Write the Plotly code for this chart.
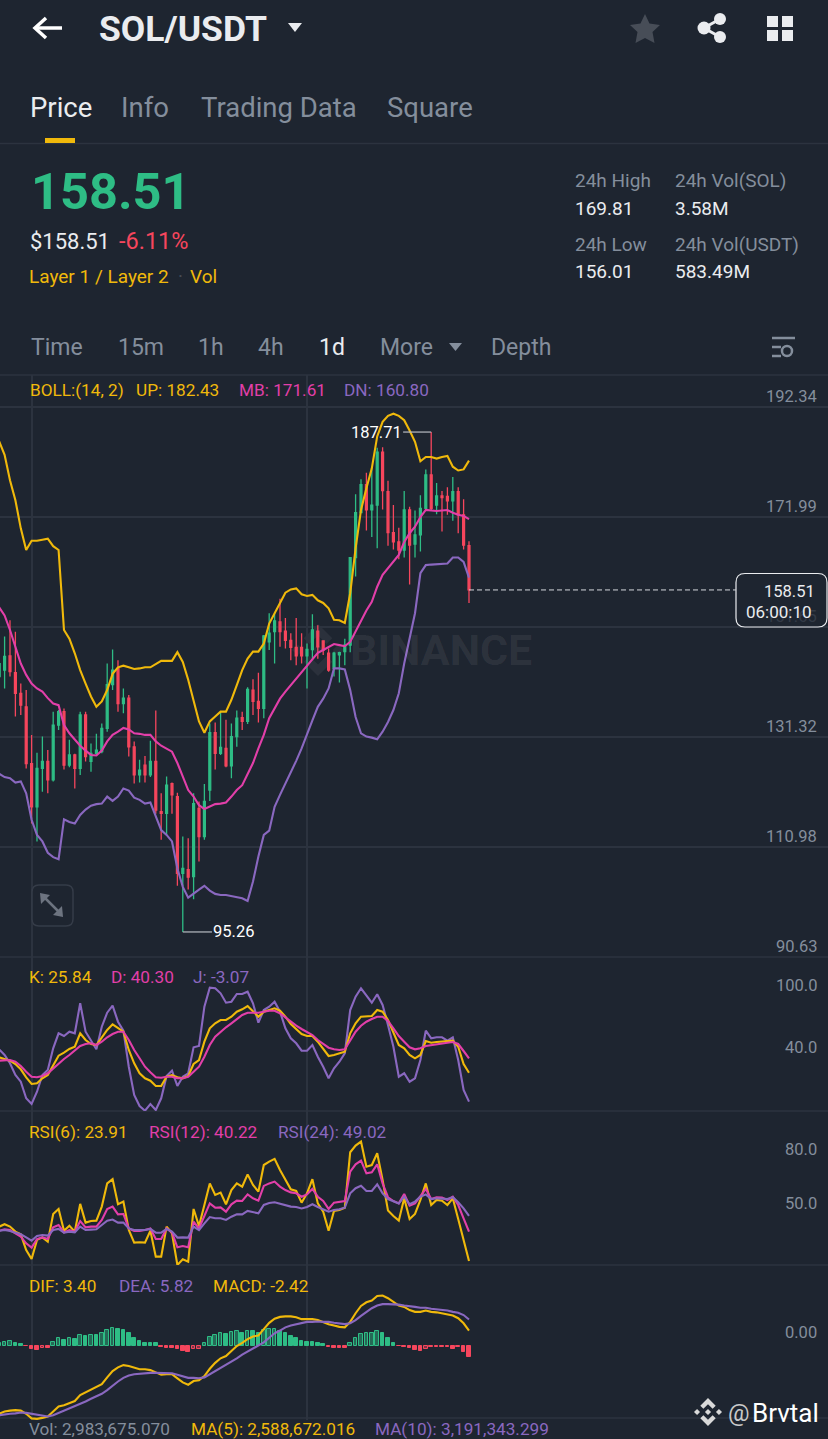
import plotly.graph_objects as go

W, H = 828, 1439

BG = "#1e2530"
GRID = "#2c333f"
GRAY = "#848e9c"
YELLOW = "#f0b90b"
PINK = "#e23fa9"
PURPLE = "#8a68c0"
GREEN = "#2ebd85"
RED = "#f6465d"
WHITE = "#eaecef"

# candle index, one per day
days = list(range(88))

opens = [142.5, 143.7, 146.3, 143.2, 139.4, 136.9, 126.4, 118.4, 125.5, 126.8,
         123.4, 133.5, 136.0, 126.1, 128.0, 125.5, 135.4, 126.8, 128.3, 128.6,
         132.9, 141.0, 144.0, 137.5, 138.5, 129.5, 124.3, 126.1, 124.3, 126.8,
         117.5, 117.2, 122.7, 120.3, 106.1, 106.8, 105.5, 118.1, 112.9, 121.5,
         132.1, 128.3, 129.2, 126.0, 131.4, 134.9, 134.2, 140.0, 137.9, 136.6,
         148.9, 150.8, 152.6, 150.9, 149.2, 147.9, 147.9, 146.3, 147.5, 150.9,
         149.1, 146.8, 144.0, 146.5, 147.1, 148.3, 164.5, 172.8, 178.0, 173.3,
         174.2, 184.0, 176.7, 169.1, 167.4, 165.9, 173.3, 167.0, 168.7, 173.6,
         179.8, 174.2, 175.9, 175.8, 175.0, 176.7, 172.4, 166.7]
highs = [147.1, 149.9, 152.9, 150.8, 141.2, 140.0, 131.7, 128.4, 131.4, 128.9,
         136.0, 136.3, 136.6, 130.8, 128.2, 136.0, 136.0, 130.1, 131.9, 133.8,
         144.9, 147.5, 145.5, 140.3, 139.1, 130.5, 127.1, 127.8, 130.6, 136.2,
         120.9, 124.0, 122.9, 121.0, 112.9, 112.6, 120.9, 119.4, 122.6, 133.8,
         134.0, 136.0, 134.5, 133.8, 136.2, 136.0, 140.5, 142.0, 143.2, 150.2,
         154.2, 154.2, 156.9, 153.3, 150.5, 153.3, 150.5, 148.6, 154.0, 152.0,
         149.2, 147.7, 147.1, 147.1, 149.5, 164.6, 176.2, 179.0, 180.2, 181.0,
         184.8, 184.9, 178.7, 174.2, 170.0, 176.8, 173.9, 173.2, 176.0, 180.8,
         187.71, 178.3, 176.8, 177.5, 179.4, 177.5, 175.3, 167.5]
lows = [130.8, 140.3, 142.5, 135.1, 135.4, 125.5, 115.3, 112.0, 121.2, 120.9,
        123.1, 132.6, 125.3, 125.7, 121.8, 124.3, 126.8, 124.9, 128.0, 128.3,
        132.3, 140.0, 136.0, 135.7, 127.7, 122.7, 122.9, 122.9, 123.9, 117.1,
        112.3, 113.2, 117.1, 103.8, 95.26, 103.1, 101.3, 108.3, 112.3, 119.5,
        125.3, 128.0, 125.7, 123.7, 129.5, 132.6, 133.7, 135.4, 134.0, 134.8,
        147.4, 144.9, 148.0, 147.7, 145.5, 144.6, 144.9, 140.3, 145.8, 145.8,
        146.5, 143.4, 142.5, 141.4, 144.6, 147.0, 161.0, 172.7, 169.5, 168.3,
        166.2, 173.4, 166.7, 166.0, 164.2, 164.5, 159.5, 164.5, 165.6, 173.2,
        173.3, 172.5, 169.3, 172.4, 171.3, 169.0, 166.0, 156.1]
closes = [144.9, 146.2, 143.4, 139.4, 137.2, 126.4, 118.4, 125.5, 126.8, 123.4,
          133.5, 136.0, 126.1, 128.0, 125.5, 135.4, 127.7, 128.3, 128.9, 132.9,
          141.0, 143.7, 137.5, 138.5, 129.5, 124.3, 125.2, 124.3, 126.8, 117.8,
          117.2, 122.4, 120.6, 106.1, 107.0, 105.4, 119.0, 112.9, 119.4, 132.1,
          128.3, 129.4, 126.0, 131.4, 134.8, 134.2, 140.1, 137.9, 136.6, 150.0,
          150.5, 152.8, 150.8, 149.2, 147.9, 146.3, 146.3, 147.5, 151.1, 148.0,
          147.4, 143.7, 146.8, 146.9, 148.3, 164.5, 172.8, 178.0, 173.3, 174.2,
          184.0, 176.9, 169.1, 167.4, 165.9, 173.3, 166.8, 168.7, 173.6, 179.8,
          173.6, 175.9, 175.6, 175.0, 176.7, 172.4, 166.8, 158.51]

boll_up = [186.0, 183.5, 178.8, 175.1, 169.9, 165.9, 167.6, 167.6, 167.8, 168.0,
           166.6, 165.9, 151.1, 149.5, 146.8, 143.7, 141.2, 138.8, 136.9, 137.9,
           140.0, 143.0, 144.2, 144.5, 144.2, 143.9, 144.0, 144.2, 144.2, 144.8,
           145.4, 145.4, 145.4, 147.0, 145.2, 141.9, 137.9, 134.2, 132.1, 134.2,
           135.1, 136.0, 136.0, 138.2, 140.9, 143.7, 145.8, 147.1, 147.1, 148.6,
           152.3, 154.2, 156.3, 158.0, 158.6, 158.8, 157.7, 157.4, 157.6, 156.6,
           156.1, 155.1, 153.0, 152.9, 152.4, 157.9, 166.2, 173.3, 177.3, 181.0,
           186.9, 189.6, 190.7, 191.1, 190.7, 189.9, 188.0, 185.9, 182.3, 183.1,
           183.1, 182.8, 183.1, 183.3, 181.3, 180.6, 180.8, 182.43]
boll_mb = [155.3, 153.8, 151.1, 148.0, 144.9, 142.8, 141.2, 140.3, 139.7, 138.5,
           137.5, 137.2, 133.5, 132.0, 130.8, 129.7, 128.8, 128.0, 127.9, 128.8,
           130.5, 131.7, 132.3, 133.0, 132.7, 132.0, 131.9, 131.7, 131.7, 130.5,
           129.7, 129.2, 128.6, 126.5, 124.0, 121.5, 120.3, 118.7, 118.0, 118.4,
           118.9, 119.0, 119.2, 120.3, 121.5, 122.4, 124.3, 126.5, 129.2, 131.7,
           134.8, 136.5, 138.4, 139.7, 140.9, 142.1, 143.4, 144.6, 145.8, 146.9,
           147.4, 147.9, 148.5, 148.3, 148.1, 148.9, 150.8, 152.9, 154.7, 156.3,
           159.1, 161.3, 162.5, 163.7, 165.0, 167.4, 169.0, 170.2, 172.0, 173.3,
           173.2, 173.1, 173.2, 173.3, 172.8, 172.4, 172.2, 171.61]
boll_dn = [124.5, 123.9, 123.7, 122.9, 123.1, 120.9, 116.0, 113.2, 112.0, 109.9,
           109.1, 108.7, 116.1, 115.6, 115.3, 116.9, 117.9, 118.6, 118.9, 119.0,
           120.3, 119.5, 120.3, 121.8, 121.4, 120.1, 119.7, 119.0, 119.2, 116.6,
           114.1, 113.2, 112.0, 107.0, 103.6, 101.6, 102.4, 103.1, 103.8, 102.9,
           102.3, 102.1, 102.1, 101.9, 101.6, 101.5, 101.0, 104.6, 109.2, 113.2,
           114.0, 118.4, 120.6, 122.7, 124.6, 126.9, 129.2, 132.0, 134.4, 136.9,
           138.4, 140.3, 144.0, 144.0, 143.8, 140.0, 135.0, 132.0, 131.4, 131.2,
           130.9, 132.3, 134.1, 136.3, 139.4, 144.9, 149.9, 154.2, 161.6, 163.1,
           163.2, 163.3, 163.3, 163.4, 164.5, 164.5, 163.7, 160.80]

kdj_k = [41.3, 39.9, 37.9, 34.6, 29.3, 21.3, 14.6, 15.3, 20.3, 23.6,
         33.6, 42.9, 45.9, 49.6, 51.9, 65.3, 58.6, 54.6, 53.6, 61.3,
         68.6, 74.3, 70.3, 66.9, 48.6, 35.3, 25.3, 20.3, 17.9, 12.6,
         12.6, 21.9, 23.6, 21.3, 20.3, 22.6, 34.6, 38.6, 56.9, 70.3,
         75.3, 78.6, 78.6, 81.9, 86.9, 89.3, 92.6, 86.9, 81.9, 86.9,
         88.6, 90.3, 87.9, 81.9, 74.6, 69.3, 64.6, 62.6, 62.6, 56.9,
         50.3, 42.6, 43.6, 45.3, 46.9, 65.3, 75.3, 81.9, 82.6, 82.6,
         88.6, 86.9, 78.6, 66.9, 53.6, 50.3, 43.6, 40.3, 43.6, 57.6,
         55.9, 56.6, 56.9, 57.9, 57.9, 51.9, 34.6, 25.84]
kdj_d = [37.9, 38.6, 38.6, 36.9, 32.6, 26.9, 21.9, 21.3, 22.6, 25.3,
         30.3, 35.3, 39.6, 43.6, 47.9, 52.6, 54.6, 55.3, 53.6, 56.9,
         61.3, 64.6, 66.9, 66.9, 58.6, 48.6, 40.3, 31.9, 26.3, 21.3,
         20.9, 21.9, 21.9, 20.3, 20.3, 21.9, 26.9, 31.9, 41.9, 53.6,
         61.9, 66.9, 71.3, 75.3, 79.6, 83.6, 85.9, 85.9, 85.9, 86.9,
         87.9, 87.9, 85.3, 81.3, 76.9, 72.9, 69.6, 66.9, 63.6, 58.6,
         54.6, 50.9, 49.3, 48.6, 49.3, 58.6, 66.9, 72.9, 76.9, 79.6,
         81.9, 81.9, 77.6, 70.3, 62.6, 56.9, 51.3, 49.3, 50.3, 52.6,
         53.6, 54.6, 55.3, 55.9, 56.6, 54.6, 47.6, 40.30]
kdj_j = [49.3, 43.6, 35.3, 23.6, 16.9, 0.3, -5.4, 6.9, 23.6, 28.6,
         50.3, 65.3, 62.6, 66.9, 65.3, 95.3, 66.9, 58.6, 49.3, 71.9,
         85.9, 92.9, 76.9, 67.9, 31.9, 3.6, -7.4, -12.1, -5.4, -11.4,
         0.3, 22.6, 27.9, 12.6, 21.9, 25.3, 51.3, 52.6, 91.9, 110.9,
         110.3, 105.3, 95.9, 96.9, 104.6, 104.6, 106.9, 95.3, 75.9, 88.6,
         91.9, 96.9, 86.9, 70.3, 60.3, 55.3, 47.9, 47.9, 53.6, 41.9,
         31.9, 20.3, 30.3, 36.9, 45.3, 88.6, 101.9, 110.3, 103.6, 95.9,
         104.3, 93.6, 73.6, 51.9, 21.9, 25.3, 16.9, 20.3, 38.6, 67.9,
         60.3, 61.3, 61.3, 57.9, 61.3, 38.6, 8.6, -3.07]

rsi_6 = [43.0, 44.3, 43.0, 40.2, 38.7, 30.0, 25.0, 35.6, 37.0, 34.6,
         50.0, 52.8, 40.7, 43.5, 40.2, 55.6, 45.2, 46.1, 46.3, 54.1,
         67.0, 69.4, 55.4, 56.9, 41.1, 34.1, 34.3, 34.1, 40.7, 26.3,
         26.3, 43.0, 39.3, 21.7, 24.8, 23.5, 52.8, 43.3, 55.0, 67.0,
         60.6, 61.9, 55.4, 63.3, 67.0, 65.2, 72.0, 66.1, 62.4, 77.2,
         79.1, 80.6, 74.4, 68.9, 63.7, 62.8, 56.3, 61.5, 69.3, 55.9,
         51.3, 40.7, 51.7, 52.2, 53.5, 84.3, 88.0, 90.2, 76.3, 77.2,
         83.7, 68.9, 51.9, 48.9, 46.3, 58.7, 47.2, 50.0, 57.8, 67.0,
         55.0, 57.8, 57.4, 55.0, 58.7, 47.2, 35.6, 23.91]
rsi_12 = [40.7, 41.5, 41.1, 39.3, 37.4, 33.7, 31.3, 36.1, 37.0, 36.1,
          42.6, 43.9, 39.8, 41.1, 40.2, 46.1, 42.6, 43.0, 43.0, 46.7,
          52.8, 54.1, 49.8, 50.0, 42.0, 40.6, 40.6, 41.1, 42.0, 36.1,
          36.1, 42.0, 39.8, 31.5, 32.2, 31.5, 45.7, 42.0, 48.5, 55.9,
          53.5, 53.7, 51.3, 55.4, 57.4, 57.2, 60.9, 58.7, 57.4, 65.6,
          67.0, 68.0, 65.2, 63.3, 62.0, 61.5, 59.6, 60.9, 63.9, 59.6,
          57.2, 52.8, 56.3, 56.9, 57.2, 73.5, 77.6, 79.6, 72.6, 73.1,
          77.6, 67.0, 59.3, 57.2, 55.9, 61.1, 54.6, 55.9, 59.6, 63.9,
          58.3, 59.3, 59.1, 57.8, 59.6, 55.0, 47.6, 40.22]
rsi_24 = [40.6, 41.1, 40.6, 39.8, 38.7, 37.0, 35.2, 37.8, 38.3, 38.0,
          41.1, 41.7, 39.6, 40.2, 39.8, 43.0, 41.1, 41.3, 41.5, 43.9,
          46.3, 46.9, 45.2, 45.2, 42.0, 41.1, 41.1, 41.1, 41.7, 39.6,
          39.6, 41.7, 40.2, 36.9, 37.0, 36.9, 43.0, 41.1, 44.8, 48.3,
          47.6, 47.6, 46.7, 48.5, 49.8, 49.8, 51.7, 50.9, 50.4, 55.0,
          56.1, 56.5, 55.7, 54.6, 54.1, 53.9, 53.1, 53.9, 55.4, 53.9,
          52.8, 51.3, 52.2, 52.6, 53.5, 61.5, 64.3, 65.7, 62.8, 62.8,
          66.5, 61.5, 58.3, 57.2, 55.9, 59.6, 55.4, 56.9, 59.6, 60.9,
          58.3, 58.7, 58.7, 58.3, 59.3, 56.5, 53.1, 49.02]

macd_dif = [-14.9, -14.4, -14.2, -14.1, -14.2, -14.9, -15.9, -16.0, -15.8, -15.5,
            -14.4, -13.3, -13.0, -12.5, -12.1, -10.8, -10.2, -9.7, -9.1, -8.4,
            -6.9, -5.5, -4.7, -4.2, -4.4, -4.8, -5.1, -5.1, -5.3, -5.8,
            -6.3, -6.2, -6.2, -7.1, -8.0, -8.5, -7.7, -7.5, -6.6, -5.0,
            -3.7, -2.7, -2.2, -1.1, 0.0, 0.7, 1.5, 2.1, 2.3, 3.7,
            5.1, 6.0, 6.4, 6.5, 6.5, 6.3, 5.9, 5.9, 5.9, 5.7,
            5.2, 4.8, 4.5, 4.2, 4.1, 5.3, 7.2, 8.8, 9.6, 10.0,
            11.0, 11.1, 10.5, 9.6, 8.9, 8.6, 7.9, 7.5, 7.5, 7.8,
            7.5, 7.4, 7.2, 6.9, 6.7, 6.1, 5.0, 3.40]
macd_dea = [-15.2, -15.0, -14.9, -14.8, -14.6, -14.7, -14.9, -15.2, -15.3, -15.5,
            -15.2, -14.7, -14.3, -13.8, -13.3, -12.7, -12.2, -11.6, -11.1, -10.5,
            -9.7, -8.7, -7.8, -7.0, -6.5, -6.2, -6.1, -5.9, -5.9, -5.9,
            -5.9, -5.9, -6.0, -6.3, -6.7, -7.0, -7.0, -7.1, -6.9, -6.2,
            -5.6, -4.9, -4.2, -3.4, -2.7, -1.9, -1.2, -0.5, 0.1, 0.8,
            1.8, 2.8, 3.4, 4.1, 4.5, 4.8, 5.1, 5.3, 5.3, 5.4,
            5.3, 5.3, 5.1, 5.0, 4.8, 5.0, 5.7, 6.6, 7.5, 8.3,
            8.9, 9.2, 9.2, 9.2, 9.1, 8.9, 8.8, 8.6, 8.4, 8.4,
            8.2, 8.1, 7.9, 7.8, 7.5, 7.3, 6.8, 5.82]
macd_hist = [0.6, 0.9, 1.0, 0.6, 0.4, -0.1, -0.7, -0.9, -0.5, -0.5,
             0.9, 1.7, 1.3, 1.8, 1.5, 2.4, 2.3, 2.4, 2.4, 2.8,
             3.5, 3.9, 3.7, 3.5, 2.9, 1.7, 1.2, 0.7, 0.7, 0.6,
             -0.3, -0.5, -0.5, -0.7, -1.1, -1.4, -0.7, -0.6, 0.6, 2.0,
             2.4, 2.8, 2.6, 3.0, 3.2, 2.9, 3.4, 3.2, 2.8, 3.5,
             3.7, 3.8, 3.2, 2.8, 2.3, 1.7, 1.2, 0.8, 0.8, 0.6,
             0.4, -0.3, -0.4, -0.4, -0.4, 0.7, 1.7, 2.6, 2.8, 2.9,
             3.3, 2.8, 1.7, 0.7, -0.1, -0.3, -0.5, -0.9, -1.0, -0.7,
             -0.3, -0.3, -0.3, -0.3, -0.7, -0.3, -1.4, -2.42]

price_ticks = [192.34, 171.99, 151.65, 131.32, 110.98, 90.63]
kdj_ticks = [100.0, 40.0]
rsi_ticks = [80.0, 50.0]
macd_ticks = [0.00]
month_days = [6, 57]
last_day = days[-1]
last_price = closes[-1]


def px(x):
    return x / W


def py(y):
    return 1 - y / H


def pix_path(d):
    # svg path written in screen pixels -> paper coordinates
    out = []
    is_x = True
    for tok in d.split():
        if tok.isalpha():
            out.append(tok)
        else:
            out.append(f"{px(float(tok)):.5f}" if is_x else f"{py(float(tok)):.5f}")
            is_x = not is_x
    return " ".join(out)


annotations = []
shapes = []


def txt(x, y, text, color=GRAY, size=17.2, anchor="left", bold=False):
    annotations.append(dict(
        x=px(x - 1 if anchor == "left" else x), y=py(y), xref="paper", yref="paper",
        text=f"<b>{text}</b>" if bold else text,
        showarrow=False, xanchor=anchor, yanchor="middle", borderpad=0,
        font=dict(family="Roboto", size=size, color=color),
    ))


def tick(value, yref, shift=0, color=GRAY):
    fmt = f"{value:.2f}" if yref in ("y", "y4") else f"{value:.1f}"
    annotations.append(dict(
        x=px(818), y=value, xref="paper", yref=yref, text=fmt, showarrow=False,
        xanchor="right", yanchor="bottom", yshift=shift, borderpad=0,
        font=dict(family="Roboto", size=16.5, color=color),
    ))


def path(d, fill=None, line=None, width=0, layer="above"):
    shapes.append(dict(
        type="path", path=pix_path(d), xref="paper", yref="paper", layer=layer,
        fillcolor=fill if fill else "rgba(0,0,0,0)",
        line=dict(color=line if line else "rgba(0,0,0,0)", width=width),
    ))


def hline(y, x0=0, x1=W, color=GRID, width=1.5):
    shapes.append(dict(type="line", xref="paper", yref="paper", layer="below",
                       x0=px(x0), x1=px(x1), y0=py(y), y1=py(y),
                       line=dict(color=color, width=width)))


def circle(cx, cy, r, fill=None, line=None, width=0):
    shapes.append(dict(type="circle", xref="paper", yref="paper", layer="above",
                       x0=px(cx - r), x1=px(cx + r), y0=py(cy - r), y1=py(cy + r),
                       fillcolor=fill if fill else "rgba(0,0,0,0)",
                       line=dict(color=line if line else "rgba(0,0,0,0)", width=width)))


def logo(cx, cy, r, color, layer="above"):
    # binance diamond mark
    def poly(points):
        d = "M " + " L ".join(f"{cx + a * r} {cy + b * r}" for a, b in points) + " Z"
        path(d, fill=color, layer=layer)
    poly([(0, -1), (0.55, -0.45), (0.33, -0.23), (0, -0.56), (-0.33, -0.23), (-0.55, -0.45)])
    poly([(0, 1), (0.55, 0.45), (0.33, 0.23), (0, 0.56), (-0.33, 0.23), (-0.55, 0.45)])
    poly([(0, -0.22), (0.22, 0), (0, 0.22), (-0.22, 0)])
    poly([(-0.78, -0.21), (-0.57, 0), (-0.78, 0.21), (-1, 0)])
    poly([(0.78, -0.21), (0.57, 0), (0.78, 0.21), (1, 0)])


# Header
path("M 35 28 L 62 28", line="#ffffff", width=3.5)
path("M 46 18 L 35 28 L 46 38", line="#ffffff", width=3.5)
txt(99, 29, "SOL/USDT", WHITE, 35.5, bold=True)
path("M 288 23 L 302 23 L 295 32 Z", fill=WHITE)
path("M 645 14 L 649.5 23.5 L 660 25 L 652.5 32 L 654.5 43 L 645 38 L 635.5 43 L 637.5 32 "
     "L 630 25 L 640.5 23.5 Z", fill="#474d57")
path("M 720 19 L 704 28 L 720 37", line=WHITE, width=3)
circle(720, 19, 6, fill=WHITE)
circle(704, 28, 6.5, fill=WHITE)
circle(720, 37, 6, fill=WHITE)
for sq in ("767 16 778 27", "782 16 793 27", "767 30 778 41", "782 30 793 41"):
    a, b, c, d = sq.split()
    path(f"M {a} {b} L {c} {b} L {c} {d} L {a} {d} Z", fill=WHITE)

txt(30, 108, "Price", WHITE, 27.5)
txt(121, 108, "Info", GRAY, 27.5)
txt(201, 108, "Trading Data", GRAY, 27.5)
txt(387, 108, "Square", GRAY, 27.5)
path("M 45 138 L 75 138 L 75 143 L 45 143 Z", fill=YELLOW)
hline(143.5)

txt(31, 191, "158.51", GREEN, 50.5, bold=True)
txt(30, 241, "$158.51", WHITE, 22)
txt(119, 241, "-6.11%", RED, 23.5)
txt(29, 276, "Layer 1 / Layer 2", YELLOW, 19)
txt(178, 276, "·", "#474d57", 19)
txt(190, 276, "Vol", YELLOW, 19)

txt(575, 180, "24h High", GRAY, 19)
txt(575, 208, "169.81", WHITE, 19)
txt(675, 180, "24h Vol(SOL)", GRAY, 19)
txt(675, 208, "3.58M", WHITE, 19)
txt(575, 244, "24h Low", GRAY, 19)
txt(575, 271, "156.01", WHITE, 19)
txt(675, 244, "24h Vol(USDT)", GRAY, 19)
txt(675, 271, "583.49M", WHITE, 19)

# Interval row
for label, x, col in [("Time", 31, GRAY), ("15m", 118, GRAY), ("1h", 198, GRAY), ("4h", 258, GRAY),
                      ("1d", 319, WHITE), ("More", 380, GRAY), ("Depth", 491, GRAY)]:
    txt(x, 347, label, col, 23)
path("M 449 343 L 462 343 L 455.5 351 Z", fill=GRAY)
path("M 772 338 L 795 338", line=GRAY, width=2.5)
path("M 772 347 L 781 347", line=GRAY, width=2.5)
path("M 772 356 L 781 356", line=GRAY, width=2.5)
circle(787, 351, 5, line=GRAY, width=2.5)
hline(375)

# Pane separators
hline(957)
hline(1111)
hline(1265)
hline(1418)

# Legends
txt(30, 390, "BOLL:(14, 2)", YELLOW)
txt(136, 390, "UP: 182.43", YELLOW)
txt(239, 390, "MB: 171.61", PINK)
txt(344, 390, "DN: 160.80", PURPLE)
txt(29, 977, "K: 25.84", YELLOW)
txt(111, 977, "D: 40.30", PINK)
txt(193, 977, "J: -3.07", PURPLE)
txt(29, 1132, "RSI(6): 23.91", YELLOW)
txt(149, 1132, "RSI(12): 40.22", PINK)
txt(278, 1132, "RSI(24): 49.02", PURPLE)
txt(29, 1286, "DIF: 3.40", YELLOW)
txt(119, 1286, "DEA: 5.82", PURPLE)
txt(213, 1286, "MACD: -2.42", YELLOW)
txt(29, 1428.5, "Vol: 2,983,675.070", GRAY)
txt(191, 1428.5, "MA(5): 2,588,672.016", YELLOW)
txt(375, 1428.5, "MA(10): 3,191,343.299", PURPLE)

for v in price_ticks:
    # 151.65 sits behind the price tag and only shows faintly
    tick(v, "y", color="#343b47" if v == 151.65 else GRAY)
tick(kdj_ticks[0], "y2", 3)
tick(kdj_ticks[1], "y2", 1)
for v in rsi_ticks:
    tick(v, "y3")
for v in macd_ticks:
    tick(v, "y4", 3)

# Watermark
txt(350, 650, "BINANCE", "rgba(255,255,255,0.07)", 43, bold=True)
logo(318, 650, 26, "rgba(255,255,255,0.06)", layer="below")

# High / low markers
high_idx = highs.index(max(highs))
low_idx = lows.index(min(lows))
shapes.append(dict(type="line", xref="x", yref="y", x0=high_idx - 5.2, x1=high_idx,
                   y0=highs[high_idx], y1=highs[high_idx], line=dict(color="#b8bcc2", width=1.2)))
shapes.append(dict(type="line", xref="x", yref="y", x0=low_idx, x1=low_idx + 5.4,
                   y0=lows[low_idx], y1=lows[low_idx], line=dict(color="#b8bcc2", width=1.2)))
annotations.append(dict(x=high_idx, y=highs[high_idx], xref="x", yref="y", text=f"{highs[high_idx]:.2f}",
                        showarrow=False, xanchor="right", xshift=-28, borderpad=0,
                        font=dict(family="Roboto", size=16.5, color="#ffffff")))
annotations.append(dict(x=low_idx, y=lows[low_idx], xref="x", yref="y", text=f"{lows[low_idx]:.2f}",
                        showarrow=False, xanchor="left", xshift=29, borderpad=0,
                        font=dict(family="Roboto", size=16.5, color="#ffffff")))

# Last price line and tag
shapes.append(dict(type="line", xref="x", yref="y", x0=last_day, x1=136.4, y0=last_price, y1=last_price,
                   line=dict(color="#d5d8dc", width=1, dash="5px,3px")))
path("M 745 573.5 L 818 573.5 Q 827 573.5 827 582.5 L 827 618 Q 827 627 818 627 L 745 627 "
     "Q 736 627 736 618 L 736 582.5 Q 736 573.5 745 573.5 Z", fill=BG, line="#eaecef", width=1.2)
txt(816, 591, f"{last_price:.2f}", WHITE, 16.5, anchor="right")
txt(813, 612, "06:00:10", WHITE, 17, anchor="right")

# Expand button
path("M 39 885 L 66 885 Q 73 885 73 892 L 73 919 Q 73 926 66 926 L 39 926 Q 32 926 32 919 "
     "L 32 892 Q 32 885 39 885 Z", fill=BG, line="#353c48", width=1.5)
path("M 40 893 L 50 895 L 41 904 Z", fill="#6d7480")
path("M 63 917 L 53 915 L 62 906 Z", fill="#6d7480")
path("M 44 897 L 59 912", line="#6d7480", width=2.5)

# Signature
logo(708, 1412, 14, "#d9d9d9")
txt(728, 1413, "@", "#c9c9c9", 24)
txt(752, 1413, "Brvtal", "#ffffff", 26)

fig = go.Figure()

fig.add_trace(go.Candlestick(
    x=days, open=opens, high=highs, low=lows, close=closes, xaxis="x", yaxis="y",
    increasing=dict(line=dict(color=GREEN, width=1.3), fillcolor=GREEN),
    decreasing=dict(line=dict(color=RED, width=1.3), fillcolor=RED),
))
for series, col in [(boll_up, YELLOW), (boll_mb, PINK), (boll_dn, PURPLE)]:
    fig.add_trace(go.Scatter(x=days, y=series, mode="lines", xaxis="x", yaxis="y",
                             line=dict(color=col, width=2.1)))
for series, col in [(kdj_j, PURPLE), (kdj_k, YELLOW), (kdj_d, PINK)]:
    fig.add_trace(go.Scatter(x=days, y=series, mode="lines", xaxis="x2", yaxis="y2",
                             line=dict(color=col, width=2.1)))
for series, col in [(rsi_6, YELLOW), (rsi_12, PINK), (rsi_24, PURPLE)]:
    fig.add_trace(go.Scatter(x=days, y=series, mode="lines", xaxis="x3", yaxis="y3",
                             line=dict(color=col, width=2.1)))

# Rising histogram bars are drawn hollow
hist_line = [GREEN if v >= 0 else RED for v in macd_hist]
hollow = {GREEN: "rgba(46,189,133,0.45)", RED: "rgba(246,70,93,0.45)"}
hist_fill = [hollow[hist_line[i]] if i and v > macd_hist[i - 1] else hist_line[i]
             for i, v in enumerate(macd_hist)]
fig.add_trace(go.Bar(x=days, y=macd_hist, xaxis="x4", yaxis="y4", width=0.68,
                     marker=dict(color=hist_fill, line=dict(color=hist_line, width=1))))
for series, col in [(macd_dif, YELLOW), (macd_dea, PURPLE)]:
    fig.add_trace(go.Scatter(x=days, y=series, mode="lines", xaxis="x4", yaxis="y4",
                             line=dict(color=col, width=2.1)))

x_axis = dict(range=[0.15, 153.48], domain=[0, 1], tickvals=month_days, showticklabels=False,
              showgrid=True, gridcolor=GRID, gridwidth=1.5, zeroline=False, ticks="",
              rangeslider=dict(visible=False), fixedrange=True)
y_axis = dict(showticklabels=False, zeroline=False, ticks="", fixedrange=True)

fig.update_layout(
    width=W, height=H,
    margin=dict(l=0, r=0, t=0, b=0),
    paper_bgcolor=BG, plot_bgcolor="rgba(0,0,0,0)",
    showlegend=False, hovermode=False, bargap=0, boxgap=0.5,
    xaxis=dict(x_axis, anchor="y"),
    xaxis2=dict(x_axis, anchor="y2"),
    xaxis3=dict(x_axis, anchor="y3"),
    xaxis4=dict(x_axis, anchor="y4"),
    yaxis=dict(y_axis, domain=[py(957), py(375)], range=[90.63, 198.26], tickvals=price_ticks,
               showgrid=True, gridcolor=GRID, gridwidth=1.5, anchor="x"),
    yaxis2=dict(y_axis, domain=[py(1111), py(957)], range=[-12.4, 141.6], showgrid=False, anchor="x2"),
    yaxis3=dict(y_axis, domain=[py(1265), py(1111)], range=[21.67, 107.2], showgrid=False, anchor="x3"),
    yaxis4=dict(y_axis, domain=[py(1420), py(1265)], range=[-16.26, 17.8], showgrid=False, anchor="x4"),
    shapes=shapes,
    annotations=annotations,
)

fig.write_html("out.html", config=dict(displayModeBar=False),
               post_script="document.body.style.margin='0';document.body.style.background='" + BG + "';")
